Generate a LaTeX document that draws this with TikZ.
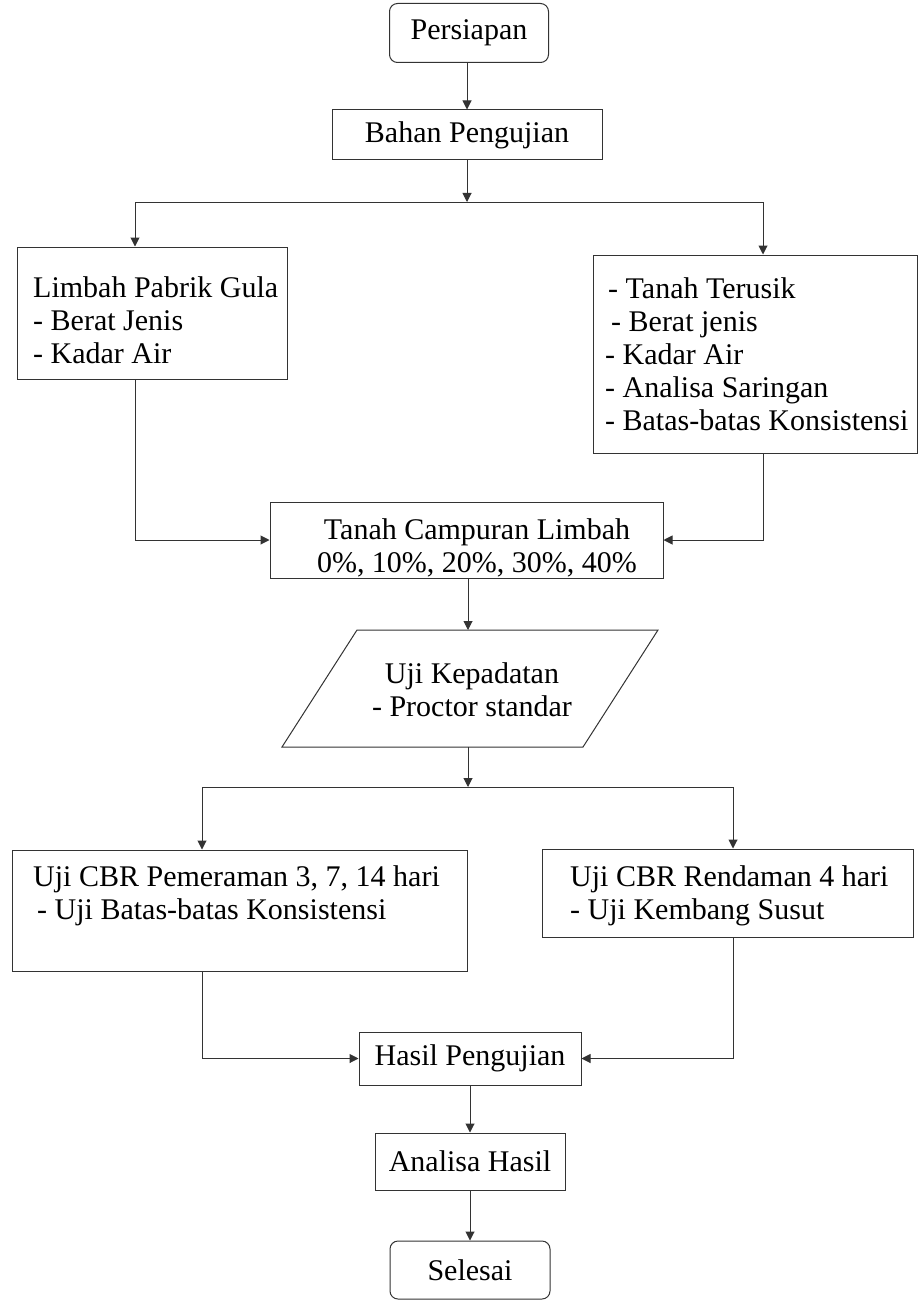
\documentclass[tikz,border=0pt]{standalone}
\usepackage{fontspec}
\setmainfont{Liberation Serif}
\usetikzlibrary{arrows.meta}
\begin{document}
\begin{tikzpicture}[x=1pt,y=-1pt,
  box/.style={draw=black!80, line width=1pt, rectangle, inner sep=0pt, align=center,
    font=\fontsize{30}{33}\selectfont},
  conn/.style={draw=black!80, line width=1pt},
  arr/.style={conn, -{Triangle[length=9pt,width=9pt]}},
  txt/.style={font=\fontsize{30}{33}\selectfont, inner sep=0pt, align=left}]
\useasboundingbox (0,0) rectangle (919,1308);

% boxes
\node[box, rounded corners=8pt, minimum width=159pt, minimum height=59pt] (persiapan) at (469,33) {Persiapan};
\node[box, minimum width=270pt, minimum height=50pt] (bahan) at (467,135) {Bahan Pengujian};
\node[box, minimum width=270pt, minimum height=132pt] (limbah) at (152,313) {};
\node[txt, anchor=west] (limbahtxt) at (33,320) {Limbah Pabrik Gula\\- Berat Jenis\\- Kadar Air};
\node[box, minimum width=324pt, minimum height=198pt] (terusik) at (755,354) {};
\node[txt, anchor=west] (terusiktxt) at (605,354) {\hspace{3pt}- Tanah Terusik\\\hspace{6pt}- Berat jenis\\- Kadar Air\\- Analisa Saringan\\- Batas-batas Konsistensi};
\node[box, minimum width=393pt, minimum height=76pt] (campuran) at (466.5,540) {};
\node[txt, align=center] (campurantxt) at (477,548) {Tanah Campuran Limbah\\0\%, 10\%, 20\%, 30\%, 40\%};

% parallelogram
\draw[conn] (357,630) -- (658,630) -- (583,747) -- (282,747) -- cycle;
\coordinate (ujitop) at (468,630);
\coordinate (ujibot) at (468,747);
\node[txt, align=center] (ujitxt) at (472,690) {Uji Kepadatan\\- Proctor standar};

\node[box, minimum width=455pt, minimum height=121pt] (pemeraman) at (239.5,910.5) {};
\node[txt, anchor=north west] (pemeramantxt) at (33,865) {Uji CBR Pemeraman 3, 7, 14 hari\\\hspace{4pt}- Uji Batas-batas Konsistensi};
\node[box, minimum width=371pt, minimum height=88pt] (rendaman) at (727.5,893) {};
\node[txt, anchor=north west] (rendamantxt) at (570,865) {Uji CBR Rendaman 4 hari\\- Uji Kembang Susut};

\node[box, minimum width=222pt, minimum height=53pt] (hasil) at (470,1058.5) {Hasil Pengujian};
\node[box, minimum width=190pt, minimum height=57pt] (analisa) at (470,1161.5) {Analisa Hasil};
\node[box, rounded corners=8pt, minimum width=160pt, minimum height=58pt] (selesai) at (470,1270) {Selesai};

% connectors
\draw[arr] (bahan.north |- persiapan.south) -- (bahan.north);
\coordinate (s1) at (467,202);
\coordinate (s1L) at (135,202);
\coordinate (s1R) at (763,202);
\draw[arr] (bahan.south) -- (s1);
\draw[conn] (s1L) -- (s1R);
\draw[arr] (s1L) -- (s1L |- limbah.north);
\draw[arr] (s1R) -- (s1R |- terusik.north);
\draw[arr] (s1L |- limbah.south) |- (campuran.west);
\draw[arr] (s1R |- terusik.south) |- (campuran.east);
\draw[arr] (campuran.south -| ujitop) -- (ujitop);
\coordinate (s2) at (468,787);
\coordinate (s2L) at (202,787);
\coordinate (s2R) at (733,787);
\draw[arr] (ujibot) -- (s2);
\draw[conn] (s2L) -- (s2R);
\draw[arr] (s2L) -- (s2L |- pemeraman.north);
\draw[arr] (s2R) -- (s2R |- rendaman.north);
\draw[arr] (s2L |- pemeraman.south) |- (hasil.west);
\draw[arr] (s2R |- rendaman.south) |- (hasil.east);
\draw[arr] (hasil.south) -- (analisa.north);
\draw[arr] (analisa.south) -- (selesai.north);
\end{tikzpicture}
\end{document}
